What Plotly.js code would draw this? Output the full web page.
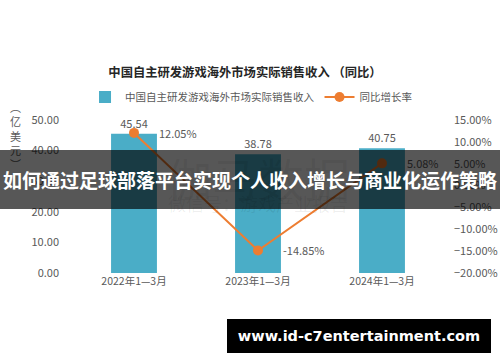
<!DOCTYPE html>
<html><head><meta charset="utf-8">
<script src="https://cdn.plot.ly/plotly-3.0.1.min.js"></script>
<style>
html,body{margin:0;padding:0;background:#fff;}
#wrap{position:relative;width:500px;height:362px;overflow:hidden;}
#chart{width:500px;height:362px;}
#banner{position:absolute;left:0;top:150px;width:500px;height:59px;background:rgba(0,0,0,0.66);
 color:#fff;font-family:"Noto Sans CJK SC",sans-serif;font-weight:bold;font-size:19px;line-height:59px;text-align:center;white-space:nowrap;}
#url{position:absolute;left:227px;top:319px;width:264px;height:34px;background:#000;color:#fff;
 font-family:"DejaVu Sans",sans-serif;font-weight:bold;font-size:14.5px;line-height:34px;text-align:center;white-space:nowrap;}
</style></head>
<body><div id="wrap"><div id="chart"></div>
<div id="banner">如何通过足球部落平台实现个人收入增长与商业化运作策略</div>
<div id="url">www.id-c7entertainment.com</div></div>
<script>
const categories = ["2022年1—3月", "2023年1—3月", "2024年1—3月"];
const revenue = [45.54, 38.78, 40.75];
const growth = [12.05, -14.85, 5.08];
const barName = "中国自主研发游戏海外市场实际销售收入";
const lineName = "同比增长率";
const titleText = "中国自主研发游戏海外市场实际销售收入 （同比）";

const F = '"Noto Sans CJK SC", sans-serif';
const gray = '#595959';
const barColor = '#4aadc7';
const lineColor = '#ed7d31';

const traces = [
  {type:'bar', x:categories, y:revenue, name:barName, marker:{color:barColor}, width:0.37,
   text:revenue.map(v=>v.toFixed(2)), textposition:'outside', cliponaxis:false,
   textfont:{family:F,size:11,color:gray}, hoverinfo:'skip'},
  {type:'scatter', mode:'lines+markers', x:categories, y:growth, yaxis:'y2', name:lineName,
   line:{color:lineColor,width:2}, marker:{color:lineColor,size:10}, cliponaxis:false}
];

const annotations = growth.map((g,i)=>({x:categories[i], y:g, xref:'x', yref:'y2', text:g.toFixed(2)+'%',
  showarrow:false, xanchor:'left', yanchor:'middle', xshift:23, font:{family:F,size:11,color:gray}}));
annotations.push({xref:'paper', yref:'paper', x:(15-72)/372, y:1+(120-97)/153, xanchor:'center', yanchor:'top',
  text:'︵<br>亿<br>美<br>元<br>︶', showarrow:false, font:{family:F,size:11,color:gray}, align:'center'});
annotations.push({xref:'paper', yref:'paper', x:0.5, y:1-(177-120)/153, xanchor:'center', yanchor:'middle', text:'伽马数据', showarrow:false,
  font:{family:F,size:46,color:'rgba(0,0,0,0.07)'}});
annotations.push({xref:'paper', yref:'paper', x:0.5, y:1-(203-120)/153, xanchor:'center', yanchor:'middle', text:'微信号：游戏产业报告', showarrow:false,
  font:{family:F,size:18,color:'rgba(0,0,0,0.07)'}});

const layout = {
  width:500, height:362, margin:{l:72, r:56, t:120, b:89},
  paper_bgcolor:'#fff', plot_bgcolor:'#fff',
  title:{text:titleText, font:{family:F,size:12.3,color:'#262626',weight:'bold'}, x:0.49, xanchor:'center', y:0.8, yanchor:'middle', yref:'container'},
  showlegend:true,
  legend:{orientation:'h', x:0.035, xanchor:'left', y:1.15, yanchor:'middle', font:{family:F,size:10.5,color:gray}, bgcolor:'rgba(0,0,0,0)', itemwidth:30},
  bargap:0.63,
  xaxis:{showgrid:false, zeroline:false, showline:false, ticks:'', tickfont:{family:F,size:10.5,color:gray}},
  yaxis:{range:[0,50], dtick:10, tickformat:'.2f', showgrid:false, zeroline:false, showline:false, ticks:'', ticklabelstandoff:12, tickfont:{family:F,size:11,color:gray}, fixedrange:true},
  yaxis2:{range:[-20,15], dtick:5, tickformat:'.2f', ticksuffix:'%', overlaying:'y', side:'right', showgrid:false, zeroline:false, showline:false, ticks:'', ticklabelstandoff:9, tickfont:{family:F,size:11,color:gray}},
  annotations:annotations
};
Plotly.newPlot('chart', traces, layout, {staticPlot:true, displayModeBar:false});
</script></body></html>
